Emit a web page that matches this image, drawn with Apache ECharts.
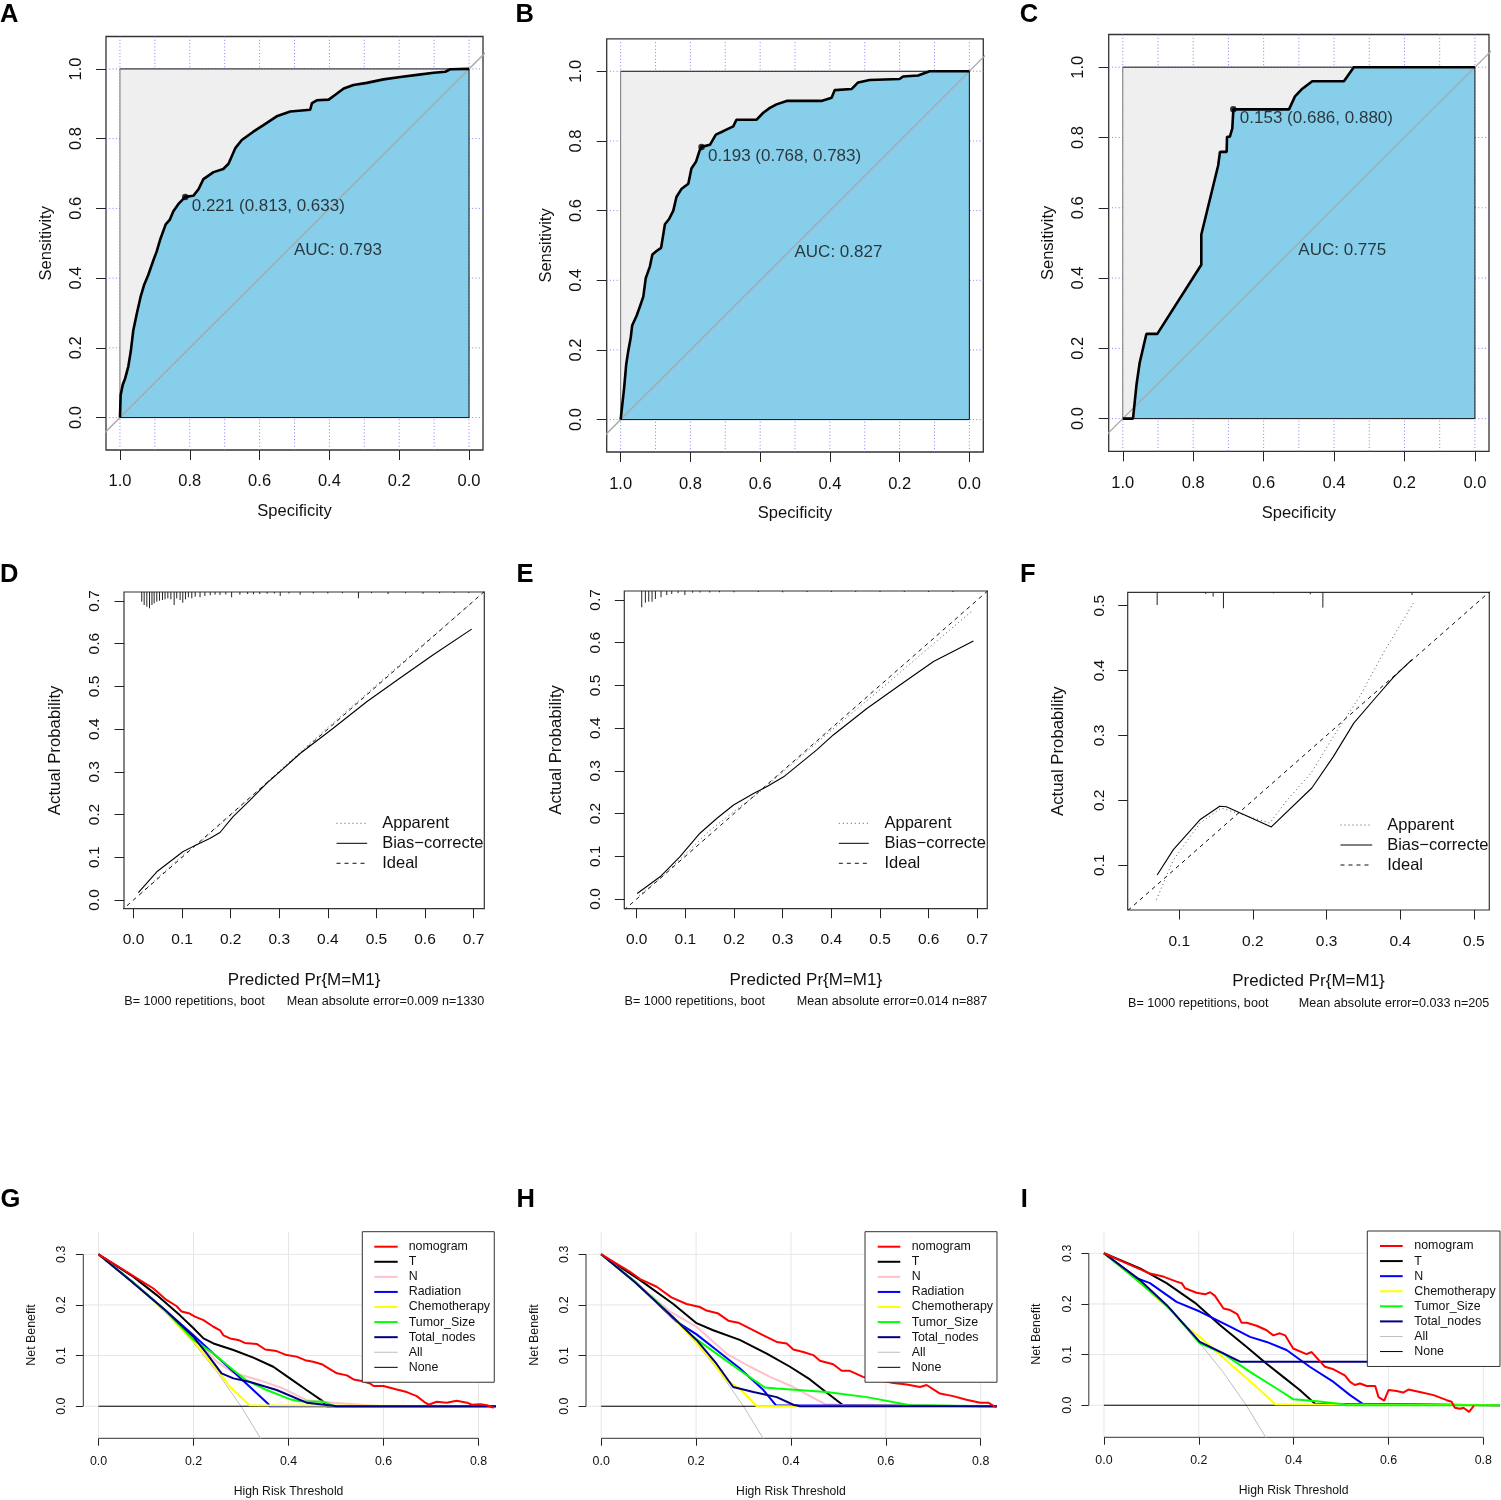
<!DOCTYPE html>
<html><head><meta charset="utf-8">
<script src="https://cdn.jsdelivr.net/npm/echarts@6/dist/echarts.min.js"></script>
<style>html,body{margin:0;padding:0;background:#fff;overflow:hidden}#c{width:1501px;height:1500px}</style>
</head><body><div id="c"></div>
<script>
// ================= DATA =================
// --- ROC curves (specificity, sensitivity) ---
const rocSpecA = [1.0,0.998,0.992,0.985,0.976,0.969,0.962,0.952,0.941,0.931,0.919,0.904,0.895,0.885,0.869,0.857,0.847,0.833,0.813,0.79,0.775,0.761,0.732,0.704,0.689,0.670,0.651,0.618,0.589,0.551,0.512,0.455,0.450,0.436,0.402,0.383,0.359,0.331,0.293,0.245,0.197,0.149,0.101,0.068,0.054,0.0];
const rocSensA = [0,0.065,0.094,0.113,0.147,0.19,0.249,0.297,0.346,0.38,0.409,0.452,0.476,0.51,0.554,0.568,0.592,0.612,0.633,0.636,0.655,0.684,0.704,0.713,0.728,0.772,0.796,0.820,0.839,0.864,0.878,0.883,0.902,0.910,0.912,0.926,0.944,0.954,0.960,0.970,0.977,0.983,0.989,0.992,0.999,1.0];
const rocSpecB = [1,0.990,0.984,0.978,0.971,0.967,0.954,0.945,0.935,0.928,0.916,0.909,0.897,0.884,0.873,0.861,0.849,0.840,0.825,0.806,0.797,0.784,0.773,0.768,0.744,0.727,0.706,0.677,0.668,0.610,0.591,0.572,0.553,0.524,0.424,0.395,0.386,0.338,0.319,0.286,0.200,0.190,0.147,0.114,0];
const rocSensB = [0,0.091,0.159,0.198,0.236,0.270,0.299,0.324,0.353,0.406,0.440,0.474,0.484,0.493,0.561,0.576,0.600,0.639,0.663,0.677,0.721,0.740,0.774,0.783,0.789,0.818,0.828,0.842,0.861,0.861,0.881,0.895,0.905,0.915,0.915,0.924,0.946,0.949,0.968,0.975,0.978,0.985,0.988,1.0,1.0];
const rocSpecC = [1,0.971,0.961,0.952,0.933,0.902,0.777,0.777,0.729,0.724,0.705,0.704,0.696,0.689,0.686,0.528,0.511,0.492,0.462,0.372,0.344,0];
const rocSensC = [0,0,0.097,0.159,0.241,0.241,0.438,0.524,0.721,0.759,0.759,0.802,0.802,0.826,0.880,0.880,0.917,0.937,0.960,0.960,1.0,1.0];
const rocThreshold = ['0.221','0.193','0.153'];
const rocBestSpec = [0.813,0.768,0.686];
const rocBestSens = [0.633,0.783,0.880];
const rocAUC = ['0.793','0.827','0.775'];
const rocTicks = [0,0.2,0.4,0.6,0.8,1.0];
const rocGridX = [0,0.1,0.2,0.3,0.4,0.5,0.6,0.7,0.8,0.9,1.0];
const rocDiagonal = [[1.1,-0.1],[-0.1,1.1]];

// --- Calibration curves ---
const calTicksDE = [0,0.1,0.2,0.3,0.4,0.5,0.6,0.7];
const calTicksF = [0.1,0.2,0.3,0.4,0.5];
const idealLine = [[-0.1,-0.1],[1,1]];
const biasXD = [0.010,0.048,0.1015,0.129,0.157,0.178,0.205,0.240,0.274,0.309,0.343,0.411,0.480,0.548,0.617,0.696];
const biasYD = [0.017,0.066,0.113,0.129,0.144,0.158,0.195,0.234,0.273,0.308,0.343,0.402,0.464,0.519,0.574,0.634];
const appXD = [0.012,0.05,0.1,0.15,0.2,0.25,0.3,0.4,0.5,0.6,0.699];
const appYD = [0.012,0.052,0.104,0.148,0.198,0.25,0.302,0.404,0.503,0.602,0.698];
const biasXE = [0.001,0.048,0.089,0.130,0.165,0.199,0.240,0.267,0.302,0.370,0.404,0.473,0.541,0.610,0.692];
const biasYE = [0.013,0.052,0.099,0.154,0.189,0.220,0.247,0.263,0.286,0.349,0.384,0.446,0.501,0.556,0.604];
const appXE = [0.005,0.05,0.1,0.15,0.2,0.25,0.3,0.4,0.5,0.6,0.692];
const appYE = [0.008,0.05,0.105,0.16,0.205,0.248,0.297,0.395,0.49,0.588,0.677];
const biasXF = [0.070,0.092,0.128,0.155,0.164,0.225,0.280,0.309,0.337,0.368,0.391,0.416];
const biasYF = [0.085,0.124,0.170,0.191,0.190,0.159,0.219,0.267,0.319,0.360,0.390,0.417];
const appXF = [0.069,0.092,0.128,0.157,0.223,0.246,0.279,0.309,0.345,0.377,0.418];
const appYF = [0.047,0.108,0.165,0.188,0.165,0.200,0.242,0.298,0.360,0.427,0.504];
// rug spikes at top: predicted value and spike height (probability units)
const rugXD = [0.017,0.022,0.0275,0.033,0.038,0.0425,0.048,0.0535,0.0597,0.065,0.0707,0.077,0.0837,0.089,0.096,0.1015,0.107,0.113,0.120,0.127,0.137,0.147,0.158,0.168,0.178,0.19,0.202,0.219,0.235,0.247,0.26,0.275,0.29,0.302,0.32,0.343,0.37,0.40,0.43,0.463,0.49,0.524,0.56,0.596,0.63,0.66,0.69];
const rugHD = [0.0227,0.0304,0.0344,0.0382,0.0304,0.0265,0.0227,0.0204,0.0187,0.0171,0.0148,0.0171,0.0304,0.0148,0.0187,0.0251,0.0171,0.0124,0.0148,0.011,0.0124,0.0094,0.0077,0.0059,0.007,0.0059,0.0124,0.0063,0.0047,0.0054,0.0047,0.0042,0.0035,0.0094,0.0035,0.0063,0.0035,0.0035,0.0028,0.0148,0.0028,0.0047,0.0028,0.004,0.0028,0.0023,0.0023];
const rugXE = [0.0103,0.0178,0.0247,0.0315,0.0384,0.050,0.0617,0.072,0.085,0.099,0.115,0.13,0.15,0.17,0.2,0.25,0.3,0.35,0.4,0.45,0.5,0.55,0.6,0.65];
const rugHE = [0.0382,0.0274,0.025,0.025,0.0187,0.0148,0.0094,0.007,0.005,0.0094,0.004,0.0035,0.0035,0.003,0.003,0.0025,0.003,0.0025,0.0025,0.0025,0.0025,0.0025,0.0025,0.0025];
const rugXF = [0.070,0.136,0.146,0.160,0.228,0.278,0.295,0.416];
const rugHF = [0.0196,0.0026,0.0066,0.0246,0.0015,0.003,0.0236,0.0042];
const calMAE = ['0.009','0.014','0.033'];
const calN = ['1330','887','205'];
const calB = '1000';

// --- Decision curves ---
const dcaTicksX = [0,0.2,0.4,0.6,0.8];
const dcaTicksY = [0,0.1,0.2,0.3];
const dcaNone = [[0,0],[0.84,0]];
const dcaAll = [[0,0.3],[0.05,0.263],[0.1,0.222],[0.15,0.176],[0.2,0.125],[0.25,0.067],[0.3,0.0],[0.35,-0.077]];
const gNomogram = [[0,0.300],[0.045,0.274],[0.087,0.249],[0.115,0.233],[0.143,0.210],[0.164,0.198],[0.175,0.187],[0.192,0.183],[0.203,0.177],[0.221,0.170],[0.242,0.157],[0.256,0.150],[0.263,0.140],[0.277,0.134],[0.294,0.131],[0.308,0.125],[0.333,0.123],[0.351,0.112],[0.375,0.109],[0.396,0.101],[0.417,0.098],[0.435,0.091],[0.452,0.088],[0.470,0.083],[0.488,0.073],[0.502,0.065],[0.523,0.061],[0.537,0.053],[0.554,0.050],[0.572,0.045],[0.579,0.040],[0.600,0.040],[0.628,0.033],[0.649,0.028],[0.670,0.020],[0.688,0.007],[0.695,0.003],[0.712,0.009],[0.733,0.007],[0.754,0.011],[0.776,0.007],[0.786,0.003],[0.804,0.004],[0.818,0.002],[0.832,-0.003]];
const gT = [[0,0.3],[0.073,0.256],[0.122,0.220],[0.171,0.180],[0.200,0.154],[0.221,0.134],[0.242,0.124],[0.284,0.111],[0.326,0.096],[0.368,0.078],[0.403,0.055],[0.438,0.032],[0.472,0.010],[0.476,0.004],[0.48,0],[0.84,0]];
const gN = [[0,0.3],[0.07,0.247],[0.14,0.19],[0.2,0.137],[0.249,0.088],[0.284,0.066],[0.340,0.051],[0.389,0.035],[0.438,0.012],[0.495,0.007],[0.565,0.002],[0.6,0],[0.84,0]];
const gRadiation = [[0,0.3],[0.07,0.247],[0.14,0.19],[0.2,0.14],[0.249,0.098],[0.284,0.068],[0.319,0.038],[0.358,0.004],[0.36,0],[0.84,0]];
const gChemo = [[0,0.3],[0.07,0.246],[0.14,0.188],[0.2,0.128],[0.256,0.065],[0.277,0.038],[0.318,0.002],[0.32,0],[0.84,0]];
const gTumor = [[0,0.3],[0.07,0.247],[0.14,0.19],[0.2,0.131],[0.242,0.104],[0.284,0.071],[0.312,0.051],[0.354,0.032],[0.403,0.014],[0.424,0.010],[0.473,0.009],[0.495,0.001],[0.5,0],[0.84,0]];
const gNodes = [[0,0.3],[0.07,0.246],[0.14,0.19],[0.2,0.137],[0.228,0.104],[0.259,0.065],[0.284,0.055],[0.319,0.048],[0.375,0.032],[0.438,0.007],[0.495,0.001],[0.5,0],[0.84,0]];
const hNomogram = [[0,0.3],[0.060,0.266],[0.082,0.251],[0.117,0.236],[0.148,0.215],[0.180,0.202],[0.208,0.196],[0.222,0.189],[0.247,0.183],[0.268,0.169],[0.289,0.165],[0.317,0.152],[0.342,0.140],[0.370,0.127],[0.391,0.124],[0.405,0.112],[0.426,0.107],[0.447,0.101],[0.461,0.090],[0.489,0.083],[0.507,0.070],[0.524,0.070],[0.552,0.058],[0.585,0.052],[0.616,0.046],[0.644,0.043],[0.672,0.038],[0.686,0.042],[0.714,0.025],[0.742,0.020],[0.770,0.013],[0.799,0.007],[0.816,0.007],[0.832,-0.002]];
const hT = [[0,0.3],[0.082,0.249],[0.152,0.202],[0.201,0.164],[0.236,0.150],[0.292,0.131],[0.349,0.104],[0.398,0.078],[0.440,0.053],[0.475,0.027],[0.510,0.002],[0.512,0],[0.84,0]];
const hN = [[0,0.3],[0.07,0.247],[0.145,0.187],[0.201,0.157],[0.264,0.104],[0.314,0.078],[0.356,0.058],[0.405,0.038],[0.472,0.004],[0.517,0.002],[0.52,0],[0.84,0]];
const hRadiation = [[0,0.3],[0.07,0.247],[0.159,0.167],[0.201,0.142],[0.243,0.111],[0.292,0.075],[0.342,0.032],[0.368,0.002],[0.37,0],[0.84,0]];
const hChemo = [[0,0.3],[0.07,0.246],[0.15,0.177],[0.2,0.126],[0.23,0.094],[0.264,0.051],[0.292,0.035],[0.321,0.007],[0.328,0],[0.84,0]];
const hTumor = [[0,0.3],[0.07,0.247],[0.15,0.178],[0.194,0.137],[0.243,0.104],[0.292,0.071],[0.345,0.037],[0.370,0.035],[0.475,0.028],[0.560,0.018],[0.651,0.002],[0.655,0],[0.84,0]];
const hNodes = [[0,0.3],[0.07,0.246],[0.15,0.177],[0.201,0.131],[0.243,0.084],[0.278,0.038],[0.321,0.028],[0.370,0.018],[0.405,0.003],[0.419,0],[0.84,0]];
const iNomogram = [[0,0.3],[0.048,0.280],[0.097,0.260],[0.125,0.254],[0.153,0.244],[0.164,0.241],[0.171,0.231],[0.195,0.222],[0.213,0.219],[0.224,0.223],[0.234,0.216],[0.252,0.191],[0.266,0.188],[0.281,0.180],[0.290,0.163],[0.301,0.163],[0.322,0.157],[0.343,0.148],[0.357,0.138],[0.371,0.142],[0.382,0.138],[0.399,0.112],[0.427,0.101],[0.438,0.105],[0.456,0.086],[0.466,0.076],[0.484,0.071],[0.508,0.059],[0.519,0.046],[0.529,0.040],[0.540,0.043],[0.554,0.038],[0.572,0.038],[0.579,0.016],[0.591,0.009],[0.600,0.030],[0.617,0.028],[0.631,0.025],[0.642,0.031],[0.666,0.026],[0.695,0.020],[0.723,0.010],[0.733,0.007],[0.740,-0.005],[0.751,-0.007],[0.758,-0.005],[0.770,-0.013],[0.780,-0.001]];
const iT = [[0,0.3],[0.076,0.270],[0.132,0.241],[0.195,0.200],[0.245,0.158],[0.301,0.115],[0.343,0.082],[0.378,0.056],[0.413,0.030],[0.445,0.003],[0.447,0],[0.84,0]];
const iN = [[0,0.3],[0.069,0.251],[0.097,0.241],[0.153,0.204],[0.202,0.185],[0.266,0.155],[0.308,0.135],[0.343,0.125],[0.385,0.109],[0.434,0.076],[0.484,0.046],[0.519,0.020],[0.547,0.002],[0.55,0],[0.84,0]];
const iChemo = [[0,0.3],[0.07,0.247],[0.14,0.188],[0.174,0.155],[0.202,0.135],[0.273,0.076],[0.329,0.030],[0.361,0.002],[0.365,0],[0.84,0]];
const iTumor = [[0,0.3],[0.07,0.247],[0.14,0.19],[0.202,0.122],[0.252,0.102],[0.308,0.066],[0.364,0.033],[0.399,0.012],[0.449,0.008],[0.505,0.002],[0.51,0],[0.84,0]];
const iNodes = [[0,0.3],[0.076,0.247],[0.132,0.198],[0.202,0.125],[0.238,0.109],[0.287,0.086],[0.301,0.086],[0.62,0.086]];

// ================= BUILD =================
const FONT = 'Liberation Sans';
const TXT = '#111';
const zip = (xs, ys) => xs.map((x, i) => [x, ys[i]]);
const grids = [], xAxes = [], yAxes = [], series = [], legends = [], titles = [];

function mkAxis(gi, o) {
  return {
    gridIndex: gi, type: 'value', min: o.min, max: o.max, inverse: !!o.inverse,
    name: o.name, nameLocation: 'middle', nameGap: o.nameGap,
    nameTextStyle: {fontSize: o.nameFs, color: TXT, fontFamily: FONT},
    axisLine: {show: false, onZero: false}, splitLine: {show: false},
    axisTick: {show: true, inside: false, length: o.tickLen, customValues: o.ticks, lineStyle: {color: '#222', width: 1}},
    axisLabel: {show: true, customValues: o.ticks, formatter: v => (+v).toFixed(1), margin: o.margin,
      fontSize: o.fs, color: TXT, fontFamily: FONT, rotate: o.rotate || 0}
  };
}
function gridLines(gi, vals, dir, color, dash, z) {
  return {type: 'custom', xAxisIndex: gi, yAxisIndex: gi, silent: true, z: z, clip: false,
    data: vals.map(v => dir === 'v' ? [v, 0] : [0, v]),
    renderItem: function (params, api) {
      const cs = params.coordSys;
      const p = api.coord([api.value(0), api.value(1)]);
      const shape = dir === 'v' ? {x1: p[0], y1: cs.y, x2: p[0], y2: cs.y + cs.height}
                                : {x1: cs.x, y1: p[1], x2: cs.x + cs.width, y2: p[1]};
      return {type: 'line', shape: shape, style: {stroke: color, lineWidth: 1, lineDash: dash}};
    }};
}
function rug(gi, xs, hs) {
  return {type: 'custom', xAxisIndex: gi, yAxisIndex: gi, silent: true, z: 3, clip: false,
    data: zip(xs, hs),
    renderItem: function (params, api) {
      const cs = params.coordSys;
      const x = api.coord([api.value(0), 0])[0];
      const h = api.size([0, api.value(1)])[1];
      return {type: 'line', shape: {x1: x, y1: cs.y, x2: x, y2: cs.y + h}, style: {stroke: '#222', lineWidth: 1}};
    }};
}
function line(gi, data, color, width, z, extra) {
  return Object.assign({type: 'line', xAxisIndex: gi, yAxisIndex: gi, data: data, symbol: 'none',
    silent: true, z: z, itemStyle: {color: color}, lineStyle: {color: color, width: width}}, extra || {});
}
const noSymbol = {color: 'rgba(0,0,0,0)', borderWidth: 0, opacity: 0};

// ---------- ROC panels ----------
const rocCfg = [
  {left: 106, top: 36.5, width: 377, height: 413.5, xm: 22.75, xg: 52.75, ym: 21.25, yg: 51.5, spec: rocSpecA, sens: rocSensA},
  {left: 606.7, top: 38.9, width: 376.6, height: 413.1, xm: 23.5, xg: 53.2, ym: 21.75, yg: 51.5, spec: rocSpecB, sens: rocSensB},
  {left: 1108.7, top: 34.5, width: 380.3, height: 416.8, xm: 23.5, xg: 54, ym: 22.1, yg: 51.6, spec: rocSpecC, sens: rocSensC}
];
rocCfg.forEach((c, k) => {
  const gi = grids.length;
  grids.push({left: c.left, top: c.top, width: c.width, height: c.height, show: true, borderColor: '#333', borderWidth: 1.3, backgroundColor: 'rgba(0,0,0,0)'});
  xAxes.push(mkAxis(gi, {min: -0.04, max: 1.04, inverse: true, ticks: rocTicks, fs: 16.5, tickLen: 10, margin: c.xm, name: 'Specificity', nameGap: c.xg, nameFs: 16.5}));
  yAxes.push(mkAxis(gi, {min: -0.093, max: 1.093, ticks: rocTicks, fs: 16.5, tickLen: 10, margin: c.ym, rotate: 90, name: 'Sensitivity', nameGap: c.yg, nameFs: 16.5}));
  series.push(gridLines(gi, rocGridX, 'v', '#7f7fff', [1, 2.3], 1));
  series.push(gridLines(gi, rocTicks, 'h', '#7f7fff', [1, 2.3], 1));
  const roc = zip(c.spec, c.sens);
  series.push(line(gi, [[1, 1], [0, 1]], '#111', 1, 2, {areaStyle: {color: '#EFEFEF', opacity: 1}}));
  series.push(line(gi, roc, '#000', 0, 3, {areaStyle: {color: '#87CEEB', opacity: 1}}));
  series.push(line(gi, rocDiagonal, '#A8A8A8', 1.3, 4));
  series.push(line(gi, [[1, 0], [0, 0], [0, 1]], '#111', 1, 5));
  series.push(line(gi, [[1, 0], [1, 1]], '#777', 1, 5));
  series.push(line(gi, roc, '#000', 2.6, 6));
  series.push({type: 'scatter', xAxisIndex: gi, yAxisIndex: gi, silent: true, z: 7, symbolSize: 6.5,
    data: [[rocBestSpec[k], rocBestSens[k]]], itemStyle: {color: '#000'}});
  series.push({type: 'scatter', xAxisIndex: gi, yAxisIndex: gi, silent: true, z: 8, symbolSize: 1,
    data: [[rocBestSpec[k], rocBestSens[k]]], itemStyle: {color: 'rgba(0,0,0,0)'},
    label: {show: true, position: [0, 0], align: 'left', verticalAlign: 'top', offset: [7, 1], fontSize: 17, color: TXT, fontFamily: FONT,
      formatter: () => rocThreshold[k] + ' (' + rocBestSpec[k].toFixed(3) + ', ' + rocBestSens[k].toFixed(3) + ')'}});
  series.push({type: 'scatter', xAxisIndex: gi, yAxisIndex: gi, silent: true, z: 8, symbolSize: 1,
    data: [[0.5, 0.5]], itemStyle: {color: 'rgba(0,0,0,0)'},
    label: {show: true, position: [0, 0], align: 'left', verticalAlign: 'top', offset: [0, -1], fontSize: 17, color: TXT, fontFamily: FONT,
      formatter: () => 'AUC: ' + rocAUC[k]}});
});

// ---------- Calibration panels ----------
const calCfg = [
  {left: 124, top: 592, width: 360.3, height: 316.7, xmin: -0.0195, xmax: 0.722, ymin: -0.0204, ymax: 0.721, ticks: calTicksDE,
   xm: 22.85, xg: 63.5, ym: 21.25, yg: 60.6, bx: biasXD, by: biasYD, ax: appXD, ay: appYD, rx: rugXD, rh: rugHD,
   legLeft: 336, legTop: 814.3, legIW: 30.7, legTP: 10, legTW: 104, subTop: 995.4},
  {left: 624.3, top: 591, width: 363, height: 317.7, xmin: -0.0255, xmax: 0.7205, ymin: -0.0227, ymax: 0.721, ticks: calTicksDE,
   xm: 22.85, xg: 63.5, ym: 20.75, yg: 59.6, bx: biasXE, by: biasYE, ax: appXE, ay: appYE, rx: rugXE, rh: rugHE,
   legLeft: 838.3, legTop: 814.3, legIW: 30, legTP: 10.7, legTW: 104.5, subTop: 995.4},
  {left: 1127.7, top: 592.3, width: 361.6, height: 317.7, xmin: 0.030, xmax: 0.521, ymin: 0.031, ymax: 0.5206, ticks: calTicksF,
   xm: 23.25, xg: 63.2, ym: 19.75, yg: 61, bx: biasXF, by: biasYF, ax: appXF, ay: appYF, rx: rugXF, rh: rugHF,
   legLeft: 1340, legTop: 816, legIW: 31.7, legTP: 10, legTW: 104, subTop: 997}
];
calCfg.forEach((c, k) => {
  const gi = grids.length;
  grids.push({left: c.left, top: c.top, width: c.width, height: c.height, show: true, borderColor: '#333', borderWidth: 1.2, backgroundColor: 'rgba(0,0,0,0)'});
  xAxes.push(mkAxis(gi, {min: c.xmin, max: c.xmax, ticks: c.ticks, fs: 15.5, tickLen: 9.5, margin: c.xm, name: 'Predicted Pr{M=M1}', nameGap: c.xg, nameFs: 17}));
  yAxes.push(mkAxis(gi, {min: c.ymin, max: c.ymax, ticks: c.ticks, fs: 15.5, tickLen: 9.5, margin: c.ym, rotate: 90, name: 'Actual Probability', nameGap: c.yg, nameFs: 16.8}));
  series.push(rug(gi, c.rx, c.rh));
  series.push(line(gi, idealLine, '#111', 1, 3, {name: 'Ideal', lineStyle: {color: '#111', width: 1, type: [4, 4]}}));
  series.push(line(gi, zip(c.ax, c.ay), '#555', 1, 3, {name: 'Apparent', lineStyle: {color: '#555', width: 1, type: [1, 3]}}));
  series.push(line(gi, zip(c.bx, c.by), '#000', 1.1, 4, {name: 'Bias−corrected'}));
  legends.push({orient: 'vertical', left: c.legLeft, top: c.legTop, padding: 0, itemWidth: c.legIW, itemHeight: 10, itemGap: 2,
    selectedMode: false, z: 10, lineStyle: {width: 1}, itemStyle: noSymbol,
    textStyle: {fontSize: 16.5, lineHeight: 18, color: TXT, fontFamily: FONT, padding: [0, 0, 0, c.legTP], width: c.legTW, overflow: 'truncate', ellipsis: ''},
    data: ['Apparent', 'Bias−corrected', 'Ideal']});
  titles.push({text: 'B= ' + calB + ' repetitions, boot', left: c.left + 0.3, top: c.subTop, padding: 0,
    textStyle: {fontSize: 12.6, fontWeight: 'normal', color: TXT, fontFamily: FONT}});
  titles.push({text: 'Mean absolute error=' + calMAE[k] + ' n=' + calN[k], right: 1501 - (c.left + c.width), top: c.subTop, padding: 0,
    textStyle: {fontSize: 12.6, fontWeight: 'normal', color: TXT, fontFamily: FONT}});
});

// ---------- Decision curve panels ----------
const dcaColors = {nomogram: '#FF0000', T: '#000000', N: '#FFC0CB', Radiation: '#0000FF', Chemotherapy: '#FFFF00', Tumor_Size: '#00FF00', Total_nodes: '#000080'};
const dcaCfg = [
  {left: 83.3, top: 1231.7, width: 410.4, height: 206.6, ymax: 0.3447, ym: 15.4, yg: 45.8, xm: 17.2, xg: 47.3,
   curves: [['T', gT], ['N', gN], ['Radiation', gRadiation], ['Chemotherapy', gChemo], ['Tumor_Size', gTumor], ['Total_nodes', gNodes], ['nomogram', gNomogram]],
   leg: {left: 362.3, top: 1231.7, padL: 11, iw: 23.4, tp: 6, padR: 4.3}},
  {left: 586, top: 1231.7, width: 409.9, height: 206.6, ymax: 0.3447, ym: 15.5, yg: 45.5, xm: 17.2, xg: 47.3,
   curves: [['T', hT], ['N', hN], ['Radiation', hRadiation], ['Chemotherapy', hChemo], ['Tumor_Size', hTumor], ['Total_nodes', hNodes], ['nomogram', hNomogram]],
   leg: {left: 865, top: 1231.7, padL: 11.7, iw: 22.6, tp: 6.4, padR: 4}},
  {left: 1088.8, top: 1231, width: 409.7, height: 206.3, ymax: 0.344, ym: 15.4, yg: 45.9, xm: 17.2, xg: 47.3,
   curves: [['T', iT], ['N', iN, '#0000FF'], ['Chemotherapy', iChemo], ['Tumor_Size', iTumor], ['Total_nodes', iNodes], ['nomogram', iNomogram]],
   leg: {left: 1367.3, top: 1231, padL: 11.7, iw: 22.7, tp: 6.6, padR: 4.4}}
];
const dcaXmin = -0.032, dcaXmax = 0.832, dcaYmin = -0.0633;
dcaCfg.forEach((c) => {
  const gi = grids.length;
  grids.push({left: c.left, top: c.top, width: c.width, height: c.height, show: false});
  xAxes.push(mkAxis(gi, {min: dcaXmin, max: dcaXmax, ticks: dcaTicksX, fs: 12.4, tickLen: 7.4, margin: c.xm, name: 'High Risk Threshold', nameGap: c.xg, nameFs: 12.2}));
  yAxes.push(mkAxis(gi, {min: dcaYmin, max: c.ymax, ticks: dcaTicksY, fs: 12.4, tickLen: 7.4, margin: c.ym, rotate: 90, name: 'Net Benefit', nameGap: c.yg, nameFs: 12.4}));
  series.push(gridLines(gi, dcaTicksX, 'v', '#E6E6E6', null, 1));
  series.push(gridLines(gi, dcaTicksY, 'h', '#E6E6E6', null, 1));
  // R-style axis lines spanning the first to last tick
  series.push(line(gi, [[dcaTicksX[0], dcaYmin], [dcaTicksX[dcaTicksX.length - 1], dcaYmin]], '#333', 1, 2, {clip: false}));
  series.push(line(gi, [[dcaXmin, dcaTicksY[0]], [dcaXmin, dcaTicksY[dcaTicksY.length - 1]]], '#333', 1, 2, {clip: false}));
  series.push(line(gi, dcaAll, '#BEBEBE', 1, 2, {name: 'All'}));
  series.push(line(gi, dcaNone, '#000000', 1, 2, {name: 'None'}));
  const legData = [];
  const names = c.curves.map(cv => cv[0]);
  c.curves.forEach(cv => {
    const col = cv[2] || dcaColors[cv[0]];
    series.push(line(gi, cv[1], col, 2, 3, {name: cv[0]}));
  });
  ['nomogram'].concat(names.filter(n => n !== 'nomogram')).forEach(n => {
    const cv = c.curves.find(x => x[0] === n);
    if (cv[2]) legData.push({name: n, lineStyle: {color: cv[2]}});
    else legData.push(n);
  });
  legData.push({name: 'All', lineStyle: {width: 1}});
  legData.push({name: 'None', lineStyle: {width: 1}});
  legends.push({orient: 'vertical', left: c.leg.left, top: c.leg.top, padding: [7.5, c.leg.padR, 7.4, c.leg.padL],
    itemWidth: c.leg.iw, itemHeight: 8, itemGap: 0.08, borderColor: '#333', borderWidth: 1, backgroundColor: '#fff',
    selectedMode: false, z: 10, lineStyle: {width: 2}, itemStyle: noSymbol,
    textStyle: {fontSize: 12.4, lineHeight: 15, color: TXT, fontFamily: FONT, padding: [0, 0, 0, c.leg.tp]},
    data: legData});
});

// ---------- Panel letters ----------
const panelLetters = ['A', 'B', 'C', 'D', 'E', 'F', 'G', 'H', 'I'];
const letterPos = [[0, 2.4], [515.5, 2.4], [1019.7, 2.4], [0, 562.3], [516.5, 562.3], [1019.9, 562], [0.5, 1187], [516.5, 1187], [1020.7, 1187]];
panelLetters.forEach((t, i) => titles.push({text: t, left: letterPos[i][0], top: letterPos[i][1], padding: 0,
  textStyle: {fontSize: 25.5, fontWeight: 'bold', color: '#000', fontFamily: FONT}}));

const chart = echarts.init(document.getElementById('c'), null, {renderer: 'canvas'});
chart.setOption({
  animation: false,
  backgroundColor: '#fff',
  textStyle: {fontFamily: FONT},
  title: titles,
  legend: legends,
  grid: grids,
  xAxis: xAxes,
  yAxis: yAxes,
  series: series
});
</script></body></html>
